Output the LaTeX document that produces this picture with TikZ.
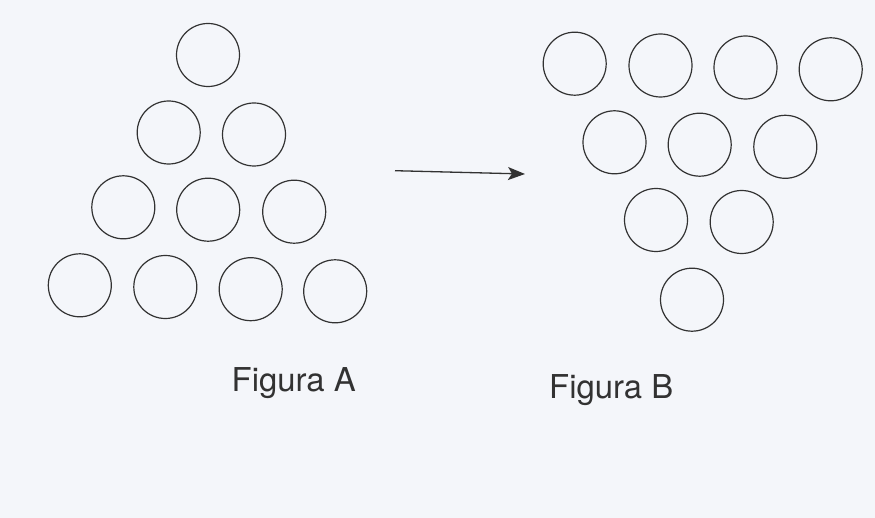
\documentclass[tikz,border=0pt]{standalone}
\usepackage{fontspec}
\setmainfont{TeX Gyre Heros}
\usetikzlibrary{arrows.meta}
\definecolor{bg}{RGB}{244,246,250}
\definecolor{ink}{RGB}{50,50,50}
\begin{document}
\begin{tikzpicture}[x=1bp,y=-1bp,
  ball/.style={circle,draw=ink,line width=1.2bp,minimum size=63bp,inner sep=0pt},
  lbl/.style={anchor=base west,inner sep=0pt,text=ink,font=\fontsize{33}{40}\selectfont}]
\fill[bg] (0,0) rectangle (875,518);
\useasboundingbox (0,0) rectangle (875,518);
% Figura A
\node[ball] (a1) at (208,55) {};
\node[ball] (a21) at (168.7,132.5) {};
\node[ball] (a22) at (254,134.5) {};
\node[ball] (a31) at (123.3,207.3) {};
\node[ball] (a32) at (208.2,209.7) {};
\node[ball] (a33) at (294.2,211.7) {};
\node[ball] (a41) at (79.8,285.3) {};
\node[ball] (a42) at (165.3,287) {};
\node[ball] (a43) at (250.7,289.2) {};
\node[ball] (a44) at (335.2,291.3) {};
% Figura B
\node[ball] (b11) at (574.7,63.7) {};
\node[ball] (b12) at (660.5,65.5) {};
\node[ball] (b13) at (745.5,67.5) {};
\node[ball] (b14) at (830.7,69.3) {};
\node[ball] (b21) at (614.5,142.3) {};
\node[ball] (b22) at (699.7,144.7) {};
\node[ball] (b23) at (785.3,146.8) {};
\node[ball] (b31) at (656,220) {};
\node[ball] (b32) at (741.7,222) {};
\node[ball] (b4) at (692,299.7) {};
% arrow
\coordinate (s) at (395,170.7);
\coordinate (e) at (525,174);
\draw[ink,line width=1.3bp,-{Stealth[length=17bp,width=13bp,inset=4bp]}] (s) -- (e);
% labels
\node[lbl] (la) at (231.5,391.7) {Figura A};
\node[lbl] (lb) at (549,398.3) {Figura B};
\end{tikzpicture}
\end{document}
